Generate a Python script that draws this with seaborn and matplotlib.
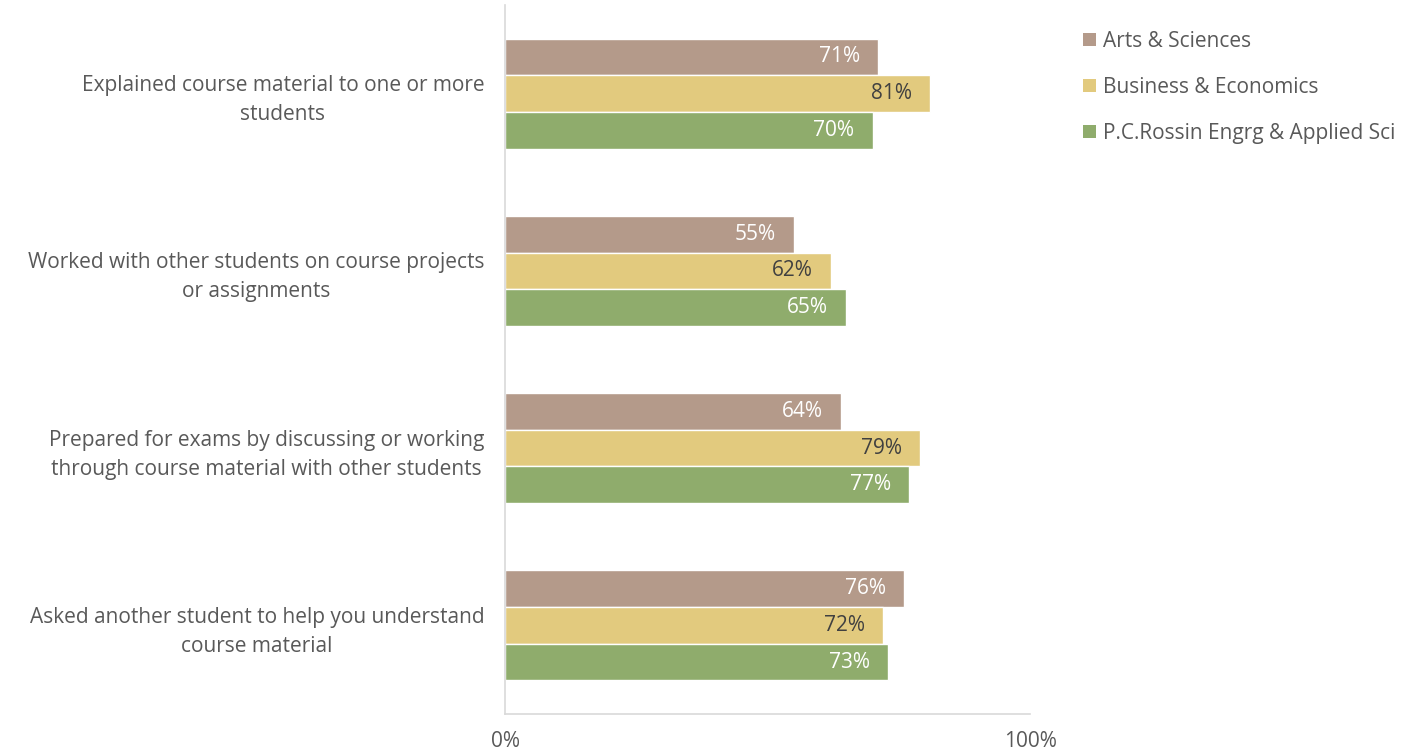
import matplotlib
matplotlib.use("Agg")
import matplotlib.pyplot as plt
import seaborn as sns
import pandas as pd
from matplotlib.patches import Patch

categories = [
    "Explained course material to one or more\nstudents",
    "Worked with other students on course projects\nor assignments",
    "Prepared for exams by discussing or working\nthrough course material with other students",
    "Asked another student to help you understand\ncourse material",
]
series = ["Arts & Sciences", "Business & Economics", "P.C.Rossin Engrg & Applied Sci"]
arts = [71, 55, 64, 76]
business = [81, 62, 79, 72]
engineering = [70, 65, 77, 73]
tick_labels = ["0%", "100%"]

colors = ["#b49a8a", "#e2ca7e", "#8fac6c"]
label_colors = ["white", "#404040", "white"]
FS = 15

rows = []
for name, vals in zip(series, [arts, business, engineering]):
    for cat, v in zip(categories, vals):
        rows.append({"question": cat, "school": name, "pct": v})
df = pd.DataFrame(rows)

sns.set_theme(style="white")
plt.rcParams["font.family"] = ["Open Sans", "DejaVu Sans"]

fig = plt.figure(figsize=(14.06, 7.54), dpi=100)
ax = fig.add_axes([0.3592, 0.053, 0.3734, 0.9404])

sns.barplot(data=df, y="question", x="pct", hue="school", order=categories,
            hue_order=series, palette=colors, orient="h", width=0.62,
            saturation=1, ax=ax, legend=False)

ax.set_xlim(0, 100)
ax.set_xticks([0, 100])
ax.set_xticklabels(tick_labels, fontsize=FS, color="#595959")
ax.tick_params(axis="x", length=0, pad=12)
ax.tick_params(axis="y", length=0, pad=15)
for lab in ax.get_yticklabels():
    lab.set_multialignment("center")
    lab.set_linespacing(1.5)
    lab.set_fontsize(FS)
    lab.set_color("#595959")
ax.set_xlabel("")
ax.set_ylabel("")

for side in ["top", "right"]:
    ax.spines[side].set_visible(False)
for side in ["left", "bottom"]:
    ax.spines[side].set_color("#d9d9d9")
    ax.spines[side].set_linewidth(1.2)

# value labels inside the end of each bar
for container, lc in zip(ax.containers, label_colors):
    for bar in container:
        w = bar.get_width()
        yc = bar.get_y() + bar.get_height() / 2
        ax.annotate(f"{w:.0f}%", xy=(w, yc), xytext=(-13, 0),
                    textcoords="offset points", ha="right", va="center",
                    fontsize=FS, color=lc)

handles = [Patch(facecolor=c, edgecolor="none") for c in colors]
leg = fig.legend(handles, series, loc="upper left", bbox_to_anchor=(0.757, 0.984),
                 frameon=False, fontsize=FS, handlelength=0.6, handleheight=0.6,
                 handletextpad=0.35, labelspacing=1.2, labelcolor="#595959")

fig.savefig("out.png", dpi=100, facecolor="white")
